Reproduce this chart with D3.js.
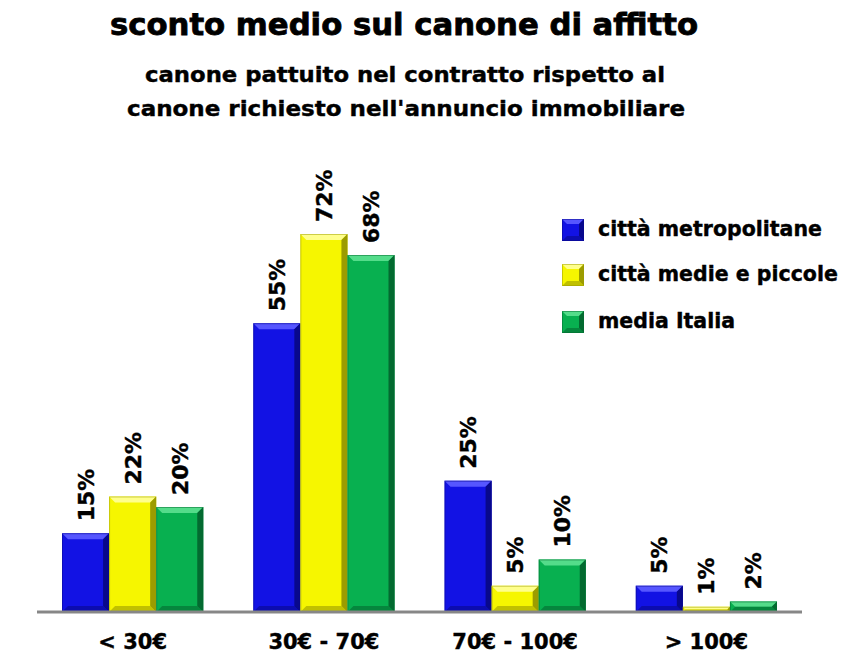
<!DOCTYPE html>
<html><head><meta charset="utf-8">
<script src="https://cdn.jsdelivr.net/npm/d3@7/dist/d3.min.js"></script>
<style>body{margin:0;background:#fff}svg{display:block}</style>
</head><body>
<svg id="c" width="846" height="667"></svg>
<script>
const categories = ["< 30€", "30€ - 70€", "70€ - 100€", "> 100€"];
const seriesNames = ["città metropolitane", "città medie e piccole", "media Italia"];
const metropolitane = [15, 55, 25, 5];
const mediePiccole = [22, 72, 5, 1];
const mediaItalia = [20, 68, 10, 2];
const seriesValues = [metropolitane, mediePiccole, mediaItalia];
const colors = ["#1212e4", "#f6f600", "#08b050"];
const lightColors = ["#5656ff", "#ffff8c", "#54dc8a"];
const darkColors = ["#08088c", "#9c9c00", "#036a30"];

const svg = d3.select("#c");
const font = "'DejaVu Sans', Verdana, sans-serif";
const baseY = 612;

const x0 = d3.scaleBand().domain(categories).range([37, 802]).paddingInner(0).paddingOuter(0);
const x1 = d3.scaleBand().domain(d3.range(3)).range([25, x0.bandwidth() - 25]);
const y = d3.scaleLinear().domain([0, 80]).range([baseY, baseY - 80 * 5.25]);

function heavy(sel, sw) { return sel.attr("stroke", "#000").attr("stroke-width", sw).attr("paint-order", "stroke"); }

// titles
heavy(svg.append("text").attr("x", 404).attr("y", 35).attr("text-anchor", "middle")
  .attr("font-family", font).attr("font-weight", "bold").attr("font-size", 30)
  .attr("textLength", 588).attr("lengthAdjust", "spacingAndGlyphs")
  .text("sconto medio sul canone di affitto"), 0.8);
heavy(svg.append("text").attr("x", 405).attr("y", 82).attr("text-anchor", "middle")
  .attr("font-family", font).attr("font-weight", "bold").attr("font-size", 21)
  .attr("textLength", 520).attr("lengthAdjust", "spacingAndGlyphs")
  .text("canone pattuito nel contratto rispetto al"), 0.4);
heavy(svg.append("text").attr("x", 406).attr("y", 116).attr("text-anchor", "middle")
  .attr("font-family", font).attr("font-weight", "bold").attr("font-size", 21)
  .attr("textLength", 558).attr("lengthAdjust", "spacingAndGlyphs")
  .text("canone richiesto nell'annuncio immobiliare"), 0.4);

function pts(a) { return a.map(p => p.join(",")).join(" "); }
function bevelBar(g, xa, ya, w, h, si, b) {
  const xb = xa + w, yb = ya + h;
  b = Math.min(b, h / 2, w / 2);
  g.append("rect").attr("x", xa).attr("y", ya).attr("width", w).attr("height", h).attr("fill", colors[si]);
  g.append("polygon").attr("points", pts([[xa, ya], [xb, ya], [xb - b, ya + b], [xa + b, ya + b]])).attr("fill", lightColors[si]);
  g.append("polygon").attr("points", pts([[xb, ya], [xb - b, ya + b], [xb - b, yb - b], [xb, yb]])).attr("fill", darkColors[si]);
  g.append("polygon").attr("points", pts([[xa, yb], [xa + b, yb - b], [xb - b, yb - b], [xb, yb]])).attr("fill", darkColors[si]).attr("opacity", 0.6);
  g.append("rect").attr("x", xa + 0.5).attr("y", ya + 0.5).attr("width", Math.max(0, w - 1)).attr("height", Math.max(0, h - 1))
    .attr("fill", "none").attr("stroke", darkColors[si]).attr("stroke-opacity", 0.5).attr("stroke-width", 1);
}

const gBars = svg.append("g");
categories.forEach((c, ci) => {
  seriesValues.forEach((vals, si) => {
    const v = vals[ci];
    const bx = x0(c) + x1(si);
    const bw = x1.bandwidth();
    const by = y(v);
    bevelBar(gBars, bx, by, bw, baseY - by, si, 6);
    const cx = bx + bw / 2;
    heavy(svg.append("text")
      .attr("transform", `translate(${cx + 8},${by - 12}) rotate(-90)`)
      .attr("font-family", font).attr("font-weight", "bold").attr("font-size", 22)
      .attr("text-anchor", "start").attr("fill", "#000")
      .text(v + "%"), 0.4);
  });
});

// axis
const axis = d3.axisBottom(x0).tickSize(0).tickPadding(22);
const gx = svg.append("g").attr("transform", `translate(0,${baseY})`).call(axis);
gx.select(".domain").attr("stroke", "#878787").attr("stroke-width", 3).attr("d", "M37,0H802");
heavy(gx.selectAll(".tick text").attr("font-family", font).attr("font-weight", "bold").attr("font-size", 21).attr("fill", "#000"), 0.4);

// legend
const legY = [230, 275, 322];
seriesNames.forEach((n, si) => {
  const g = svg.append("g");
  bevelBar(g, 562, legY[si] - 11, 22, 22, si, 5);
  heavy(svg.append("text").attr("x", 598).attr("y", legY[si] + 6)
    .attr("font-family", font).attr("font-weight", "bold").attr("font-size", 20.5)
    .text(n), 0.4);
});
</script>
</body></html>
